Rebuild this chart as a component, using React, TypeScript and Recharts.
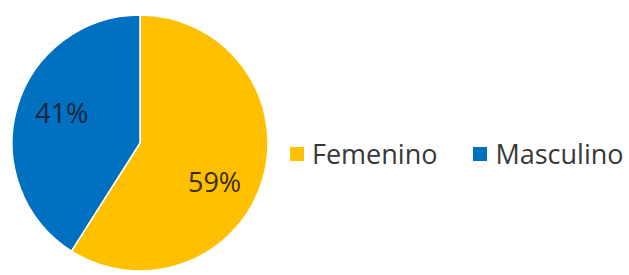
import React from "react";
import { PieChart, Pie, Cell, Legend } from "recharts";

const categories = ["Femenino", "Masculino"];
const values = [59, 41];
const colors = ["#FFC000", "#0070C0"];
const labelColors = ["#3a2e0c", "#14243a"];

const data = categories.map((name, i) => ({ name, value: values[i] }));
const total = values.reduce((a, b) => a + b, 0);

const RAD = Math.PI / 180;
const FONT = "'Open Sans', 'Noto Sans', sans-serif";

const renderLabel = (props: any) => {
  const { cx, cy, midAngle, outerRadius, index, value } = props;
  const shift = index === 0 ? -11 : -5;
  const a = (midAngle + shift) * RAD;
  const r = outerRadius * 0.655;
  const x = cx + r * Math.cos(-a);
  const y = cy + r * Math.sin(-a);
  return (
    <text
      x={x}
      y={y}
      textAnchor="middle"
      dominantBaseline="central"
      fill={labelColors[index]}
      fontFamily={FONT}
      fontSize={27}
    >
      {`${Math.round((value / total) * 100)}%`}
    </text>
  );
};

const renderLegend = (props: any) => {
  const { payload } = props;
  return (
    <div style={{ display: "flex", alignItems: "center", fontFamily: FONT, whiteSpace: "nowrap" }}>
      {(payload || []).map((p: any, i: number) => (
        <div
          key={p.value}
          style={{ display: "flex", alignItems: "center", marginRight: i === 0 ? 36 : 0, flexShrink: 0 }}
        >
          <div style={{ width: 14, height: 14, background: p.color, marginRight: 8 }} />
          <span style={{ fontSize: 27, color: "#383838", lineHeight: "30px" }}>{p.value}</span>
        </div>
      ))}
    </div>
  );
};

export default function App() {
  return (
    <>
      <style>{`html,body{margin:0;padding:0;overflow:hidden;}`}</style>
      <PieChart width={629} height={275} margin={{ top: 0, right: 0, bottom: 0, left: 0 }}>
        <Pie
          data={data}
          dataKey="value"
          nameKey="name"
          cx={140}
          cy={143}
          outerRadius={128}
          startAngle={90}
          endAngle={-270}
          stroke="#ffffff"
          strokeWidth={1.5}
          label={renderLabel}
          labelLine={false}
          isAnimationActive={false}
        >
          {data.map((d, i) => (
            <Cell key={d.name} fill={colors[i]} />
          ))}
        </Pie>
        <Legend
          content={renderLegend}
          layout="horizontal"
          wrapperStyle={{ position: "absolute", left: 290, top: 139, width: 339 }}
        />
      </PieChart>
    </>
  );
}
